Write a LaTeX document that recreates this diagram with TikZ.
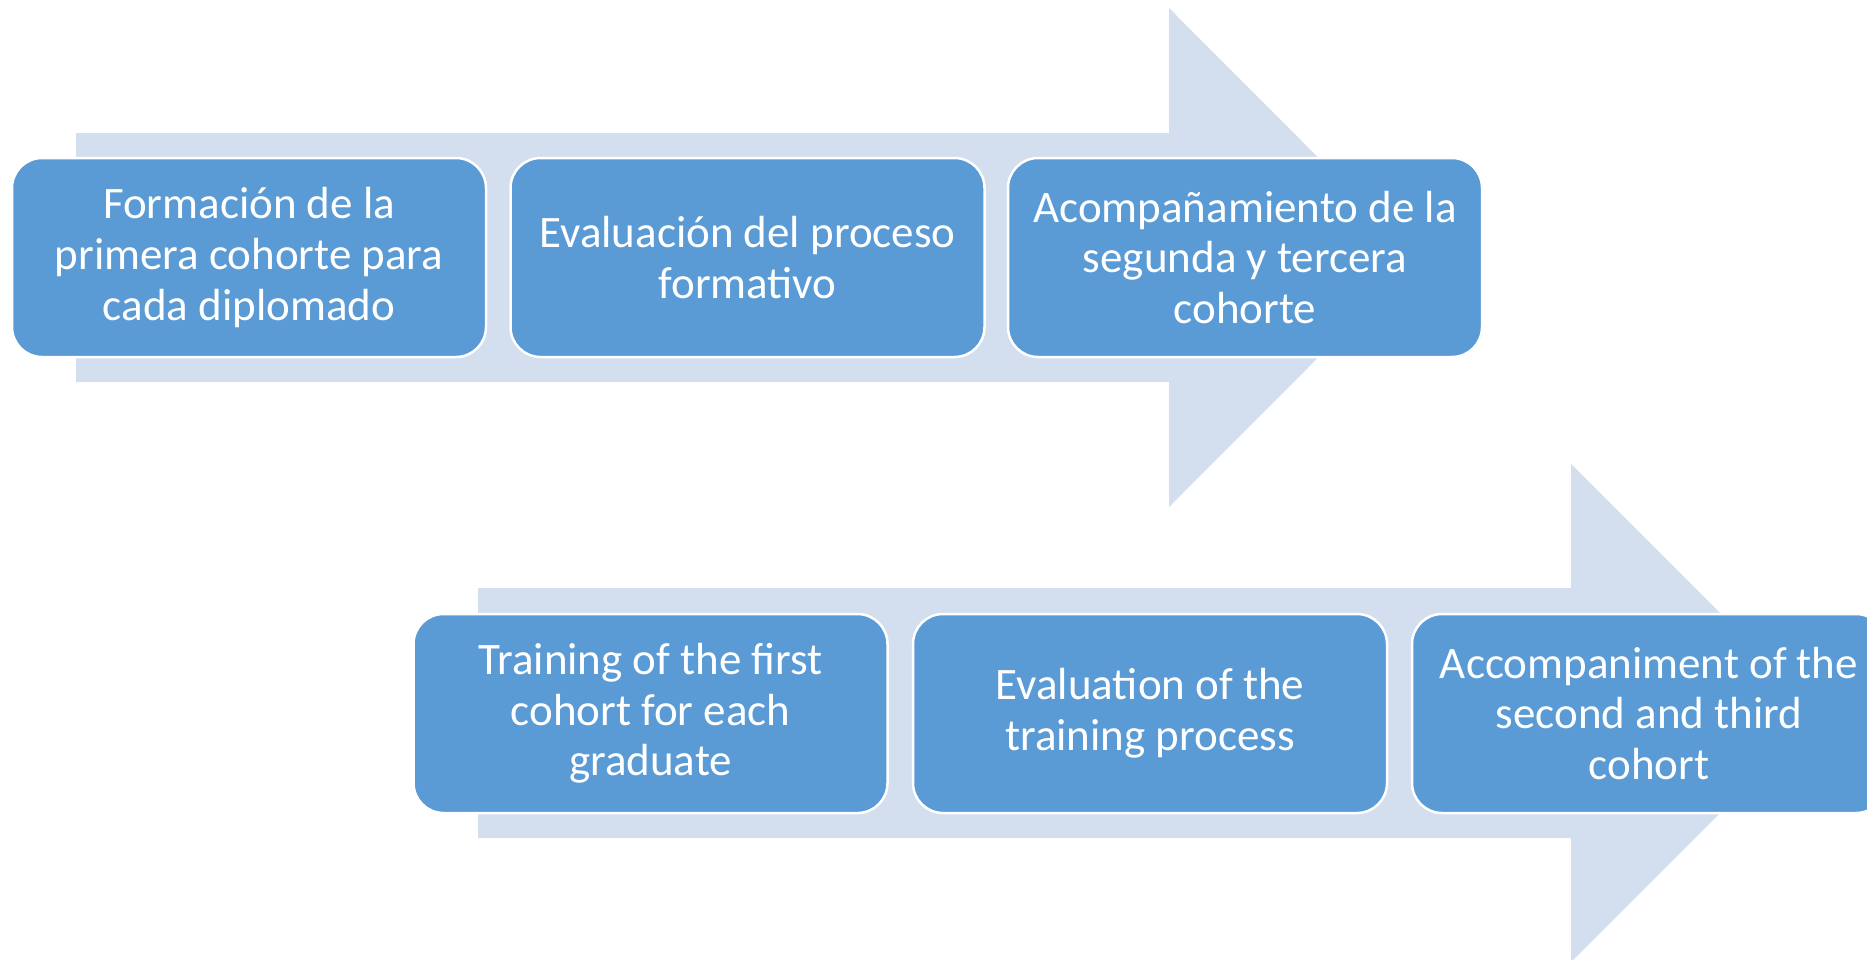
\documentclass[tikz,border=0pt]{standalone}
\usepackage{fontspec}
\setmainfont{Carlito}
\definecolor{boxblue}{HTML}{5B9BD5}
\definecolor{arrowblue}{HTML}{D3DEEF}
\tikzset{
  stepbox/.style={rectangle, rounded corners=30pt, fill=boxblue, draw=white, line width=2.5pt,
    minimum width=474pt, minimum height=199pt, inner sep=0pt, text=white, align=center,
    font=\fontsize{45}{50.6}\selectfont},
  bigarrow/.style={fill=arrowblue, draw=none}
}
\begin{document}
\begin{tikzpicture}[x=1pt,y=-1pt]
\useasboundingbox (0,0) rectangle (1867,959);
% top arrow
\fill[bigarrow] (76,133) -- (1169,133) -- (1169,8) -- (1418,257.5) -- (1169,507) -- (1169,382) -- (76,382) -- cycle;
% bottom arrow
\fill[bigarrow] (478,588) -- (1571,588) -- (1571,464) -- (1820,713) -- (1571,962) -- (1571,838) -- (478,838) -- cycle;
% top boxes
\node[stepbox] (a1) at (249,257.5) {Formación de la\\primera cohorte para\\cada diplomado};
\node[stepbox] (a2) at (747.5,257.5) {Evaluación del proceso\\formativo};
\node[stepbox] (a3) at (1245,257.5) {Acompañamiento de la\\segunda y tercera\\cohorte};
% bottom boxes
\node[stepbox] (b1) at (650.5,713.5) {Training of the first\\cohort for each\\graduate};
\node[stepbox] (b2) at (1150,713.5) {Evaluation of the\\training process};
\node[stepbox] (b3) at (1649,713.5) {Accompaniment of the\\second and third\\cohort};
\end{tikzpicture}
\end{document}
